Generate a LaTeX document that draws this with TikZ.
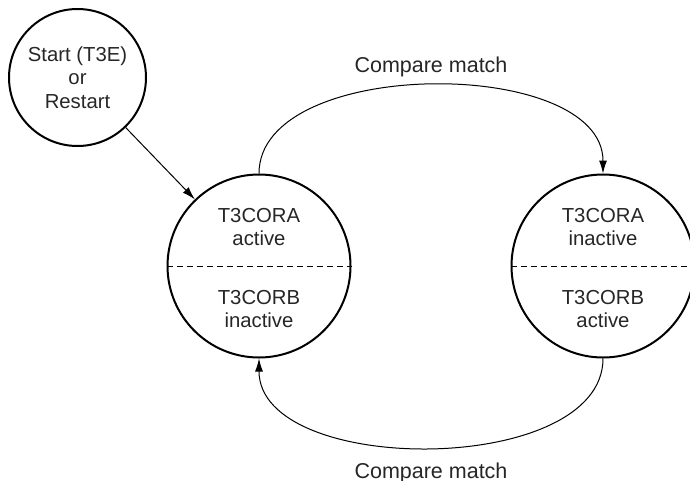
\documentclass[tikz,border=0pt]{standalone}
\usepackage{fontspec}
\setmainfont{Liberation Sans}
\usetikzlibrary{arrows.meta,positioning}

\begin{document}
\begin{tikzpicture}[
  x=1pt, y=-1pt,
  >={Latex[length=13pt,width=8pt]},
  font=\fontsize{20.3}{23.6}\selectfont,
  text=black!85,
  state/.style={draw, circle, line width=2pt, minimum size=183pt, inner sep=0pt},
  entry/.style={draw, circle, line width=2pt, minimum size=137pt, inner sep=0pt, align=center},
  half/.style={align=center, inner sep=0pt},
  divider/.style={dash pattern=on 6pt off 4pt, line width=1pt},
  arc/.style={->, line width=1pt},
  trans/.style={font=\fontsize{21.5}{25}\selectfont}
]
\useasboundingbox (0,0) rectangle (690,480);
\node[entry] (entry) at (77.5,77.5) {Start (T3E)\\or\\Restart};
\node[state] (act) at (259,266) {};
\node[state] (inact) at (603,266) {};

\draw[divider] (act.west) -- (act.east);
\draw[divider] (inact.west) -- (inact.east);
\node[half] (actA) at ([yshift=39pt]act.center) {T3CORA\\active};
\node[half] (actB) at ([yshift=-43pt]act.center) {T3CORB\\inactive};
\node[half] (inactA) at ([yshift=39pt]inact.center) {T3CORA\\inactive};
\node[half] (inactB) at ([yshift=-43pt]inact.center) {T3CORB\\active};

\draw[arc] (entry) -- (act);
\draw[arc] (act.north) .. controls (259,56) and (603,56) .. (inact.north)
  node[trans, pos=0.5, above=5pt] (cmtop) {Compare match};
\draw[arc] (inact.south) .. controls (603,477) and (259,477) .. (act.south)
  node[trans, pos=0.5, below=12pt] (cmbot) {Compare match};
\end{tikzpicture}
\end{document}
